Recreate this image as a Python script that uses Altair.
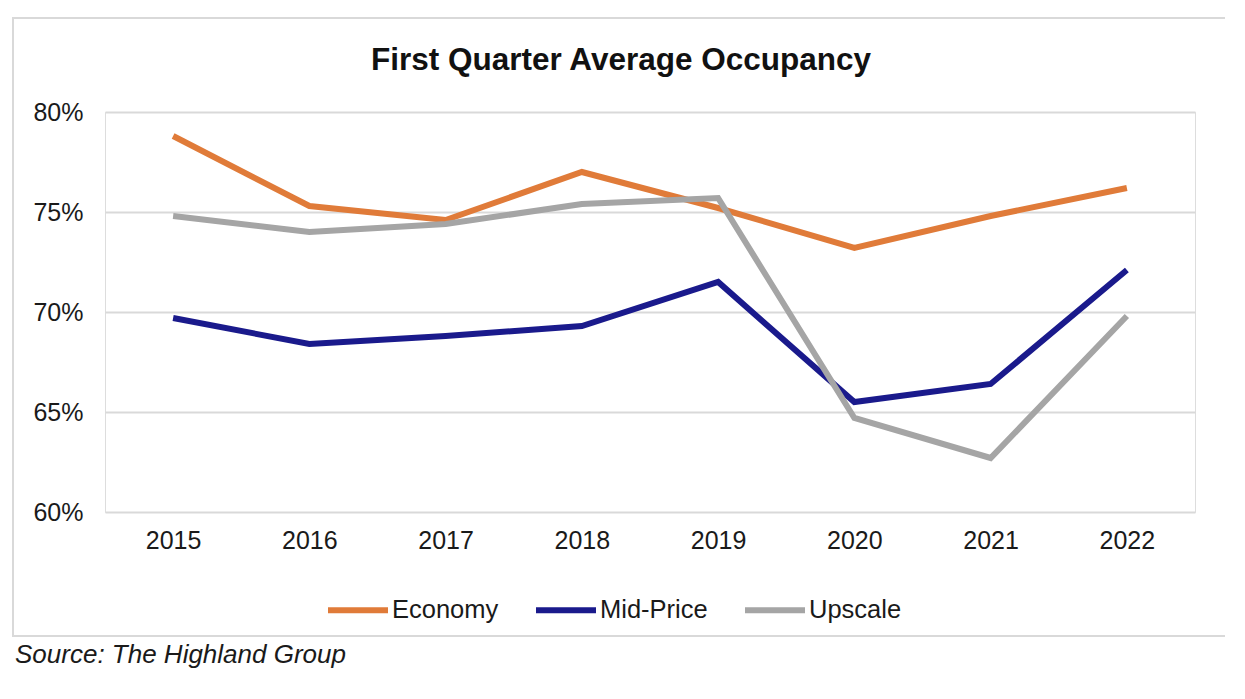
import altair as alt
import pandas as pd

years = ["2015", "2016", "2017", "2018", "2019", "2020", "2021", "2022"]
economy = [0.788, 0.753, 0.746, 0.770, 0.752, 0.732, 0.748, 0.762]
mid_price = [0.697, 0.684, 0.688, 0.693, 0.715, 0.655, 0.664, 0.721]
upscale = [0.748, 0.740, 0.744, 0.754, 0.757, 0.647, 0.627, 0.698]
series_names = ["Economy", "Mid-Price", "Upscale"]
series_colors = ["#E07B39", "#1A1A8C", "#A5A5A5"]
title_text = "First Quarter Average Occupancy"
source_text = "Source: The Highland Group"

rows = []
for name, vals in zip(series_names, [economy, mid_price, upscale]):
    for y, v in zip(years, vals):
        rows.append({"Year": y, "Series": name, "Occupancy": v})
df = pd.DataFrame(rows)

FONT = "Liberation Sans"

lines = alt.Chart(df).mark_line(strokeWidth=6, strokeJoin="miter").encode(
    x=alt.X("Year:N", sort=years, scale=alt.Scale(type="point", padding=0.5),
            axis=alt.Axis(title=None, labelAngle=0, domain=False, ticks=False,
                          grid=False, labelPadding=16, labelFontSize=25,
                          labelFont=FONT, labelColor="#1a1a1a")),
    y=alt.Y("Occupancy:Q", scale=alt.Scale(domain=[0.6, 0.8], nice=False, zero=False),
            axis=alt.Axis(title=None, format=".0%", values=[0.6, 0.65, 0.7, 0.75, 0.8],
                          domain=False, ticks=False, labelPadding=22, labelFontSize=25,
                          labelFont=FONT, labelColor="#1a1a1a",
                          gridColor="#D9D9D9", gridWidth=2)),
    color=alt.Color("Series:N", sort=series_names,
                    scale=alt.Scale(domain=series_names, range=series_colors),
                    legend=alt.Legend(title=None, orient="none", direction="horizontal",
                                      columns=3, legendX=220, legendY=465,
                                      symbolType="stroke", symbolSize=3600,
                                      symbolStrokeWidth=6, labelOffset=1,
                                      columnPadding=25, labelFontSize=25.5,
                                      labelFont=FONT, labelColor="#1a1a1a")),
)

frame_df = pd.DataFrame({"k": [0]})
frame = alt.Chart(frame_df).mark_rect(filled=False, stroke="#D9D9D9", strokeWidth=2).encode(
    x=alt.value(-92), x2=alt.value(1125), y=alt.value(-94), y2=alt.value(524)
)

title_df = pd.DataFrame({"t": [title_text]})
title = alt.Chart(title_df).mark_text(
    align="center", baseline="alphabetic", fontSize=31.5, fontWeight="bold",
    font=FONT, color="#111111"
).encode(x=alt.value(516), y=alt.value(-42), text="t:N")

source_df = pd.DataFrame({"t": [source_text]})
source = alt.Chart(source_df).mark_text(
    align="left", baseline="alphabetic", fontSize=26, fontStyle="italic",
    font=FONT, color="#1a1a1a"
).encode(x=alt.value(-90), y=alt.value(551), text="t:N")

chart = alt.layer(frame, lines, title, source).properties(
    width=1090, height=400,
    autosize=alt.AutoSizeParams(type="none"),
    padding={"left": 97, "top": 104, "right": 30, "bottom": 170},
).configure_view(stroke=None).configure(background="white")

chart.save("out.html", embed_options={"renderer": "svg", "actions": False})
